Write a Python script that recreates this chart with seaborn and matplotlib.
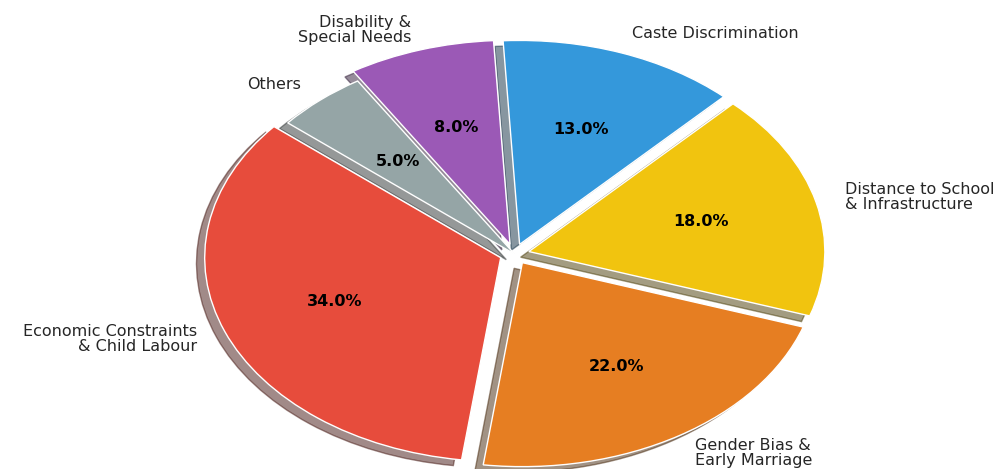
import matplotlib
matplotlib.use("Agg")
import matplotlib.pyplot as plt
import seaborn as sns

# Reasons for school dropout (share of cases, %)
categories = [
    "Economic Constraints\n& Child Labour",
    "Gender Bias &\nEarly Marriage",
    "Distance to School\n& Infrastructure",
    "Caste Discrimination",
    "Disability &\nSpecial Needs",
    "Others",
]
shares = [34, 22, 18, 13, 8, 5]
colors = ["#e74c3c", "#e67e22", "#f1c40f", "#3498db", "#9b59b6", "#95a5a6"]
explode = [0.05, 0.05, 0.05, 0.05, 0.05, 0.0]

sns.set_style("white")

fig = plt.figure(figsize=(10.03, 4.69), dpi=100)
ax = fig.add_axes([0, 0, 1, 1])

wedges, texts, autotexts = ax.pie(
    shares,
    labels=categories,
    colors=colors,
    explode=explode,
    autopct="%1.1f%%",
    startangle=140,
    shadow=True,
    wedgeprops={"edgecolor": "white", "linewidth": 1},
    textprops={"fontsize": 11.5, "linespacing": 1.0},
)
for t in autotexts:
    t.set_fontweight("bold")
    t.set_fontsize(11.5)
    t.set_color("black")

# stretched (non-circular) layout
ax.set_aspect("auto")
ax.set_xlim(-1.25, 1.25)
ax.set_ylim(-1.25, 1.25)
ax.set_position([144.5 / 1003, -40 / 469, 740 / 1003, 510 / 469])

fig.savefig("out.png", dpi=100)
